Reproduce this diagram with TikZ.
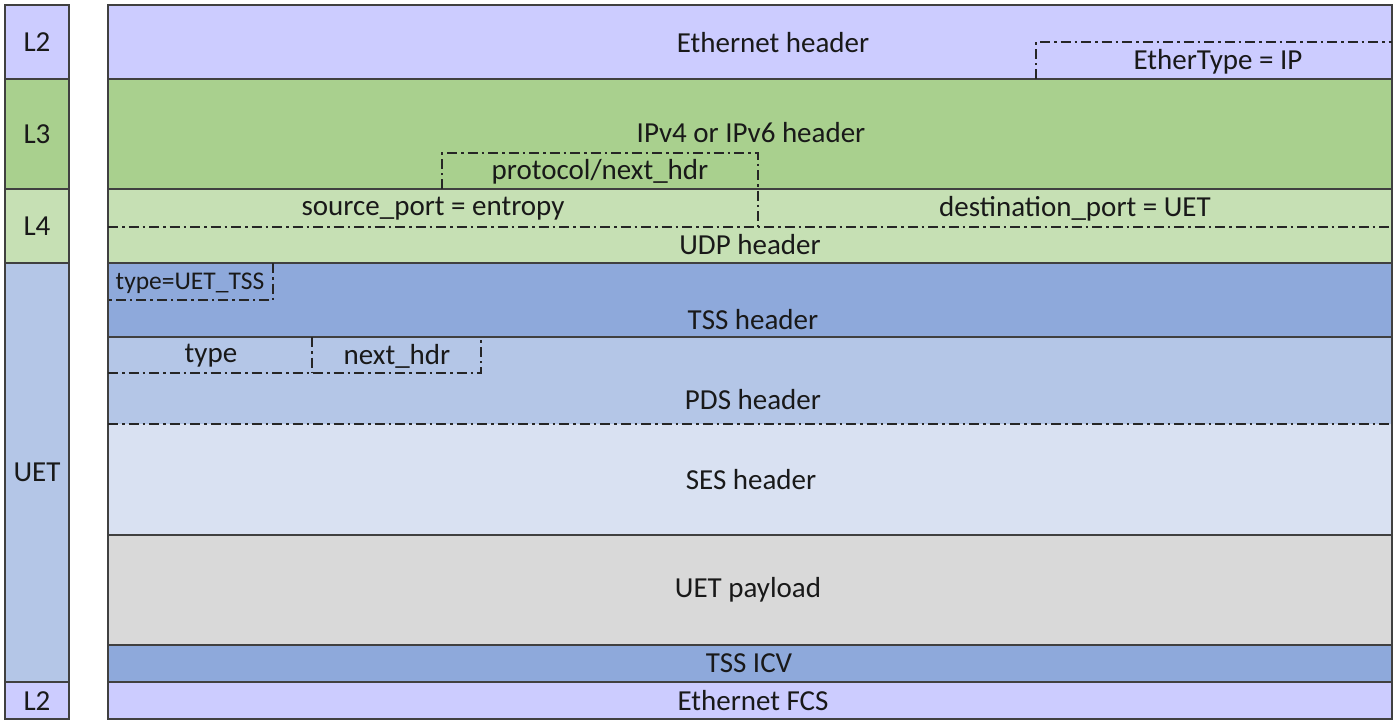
\documentclass[tikz,border=0pt]{standalone}
\usepackage{fontspec}
\setmainfont{Carlito}
\usepackage{xcolor}
\usepackage{tikz}
\usetikzlibrary{positioning,calc}

\definecolor{ethcol}{HTML}{CCCCFF}
\definecolor{ipcol}{HTML}{A9D08E}
\definecolor{udpcol}{HTML}{C6E0B4}
\definecolor{tsscol}{HTML}{8EA9DB}
\definecolor{uetcol}{HTML}{B4C6E7}
\definecolor{sescol}{HTML}{D9E1F2}
\definecolor{paycol}{HTML}{D9D9D9}

\begin{document}
\begin{tikzpicture}[
    x=1pt, y=-1pt,
    layer/.style={draw=black!75, line width=1.4pt},
    field/.style={draw=black!85, line width=1.3pt, dash pattern=on 10pt off 4pt on 2.5pt off 4pt},
    lbl/.style={font=\fontsize{29}{32}\selectfont, inner sep=0pt, text=black!90},
    small/.style={font=\fontsize{25.5}{28}\selectfont, inner sep=0pt, text=black!90}
]
\useasboundingbox (0,0) rectangle (1399,726);

% layer column
\filldraw[layer, fill=ethcol] (5,5) rectangle (69,79);
\filldraw[layer, fill=ipcol] (5,79) rectangle (69,189);
\filldraw[layer, fill=udpcol] (5,189) rectangle (69,263);
\filldraw[layer, fill=uetcol] (5,263) rectangle (69,682);
\filldraw[layer, fill=ethcol] (5,682) rectangle (69,719);

\node[lbl] (l2top) at (37,42) {L2};
\node[lbl] (l3) at (37,134) {L3};
\node[lbl] (l4) at (37,226) {L4};
\node[lbl] (uet) at (37,472) {UET};
\node[lbl] (l2bot) at (37,701) {L2};

% packet
\filldraw[layer, fill=ethcol] (108,5) rectangle (1392,79);
\filldraw[layer, fill=ipcol] (108,79) rectangle (1392,189);
\filldraw[layer, fill=udpcol] (108,189) rectangle (1392,263);
\filldraw[layer, fill=tsscol] (108,263) rectangle (1392,337);
\fill[uetcol] (108,337) rectangle (1392,424);
\fill[sescol] (108,424) rectangle (1392,535);
\draw[layer] (108,337) rectangle (1392,535);
\filldraw[layer, fill=paycol] (108,535) rectangle (1392,645);
\filldraw[layer, fill=tsscol] (108,645) rectangle (1392,682);
\filldraw[layer, fill=ethcol] (108,682) rectangle (1392,719);

% fields
\draw[field] (1036,79) -- (1036,42) -- (1392,42);
\draw[field] (442,189) -- (442,153) -- (758,153) -- (758,227);
\draw[field] (108,227) -- (1392,227);
\draw[field] (273,263) -- (273,300) -- (108,300);
\draw[field] (108,373) -- (481,373) -- (481,337);
\draw[field] (312,337) -- (312,373);
\draw[field] (108,424) -- (1392,424);

\node[lbl] (eth) at (773,43) {Ethernet header};
\node[lbl] (ethtype) at (1218,62) {EtherType = IP};
\node[lbl] (ip) at (751,133) {IPv4 or IPv6 header};
\node[lbl] (proto) at (600,172) {protocol/next\_hdr};
\node[lbl] (sport) at (433,209) {source\_port = entropy};
\node[lbl] (dport) at (1075,209) {destination\_port = UET};
\node[lbl] (udp) at (750,245) {UDP header};
\node[small] (tsstype) at (190,283) {type=UET\_TSS};
\node[lbl] (tss) at (753,320) {TSS header};
\node[lbl] (pdstype) at (211,356) {type};
\node[lbl] (pdsnext) at (397,356) {next\_hdr};
\node[lbl] (pds) at (753,400) {PDS header};
\node[lbl] (ses) at (751,480) {SES header};
\node[lbl] (pay) at (748,590) {UET payload};
\node[lbl] (icv) at (749,663) {TSS ICV};
\node[lbl] (fcs) at (753,701) {Ethernet FCS};
\end{tikzpicture}
\end{document}
